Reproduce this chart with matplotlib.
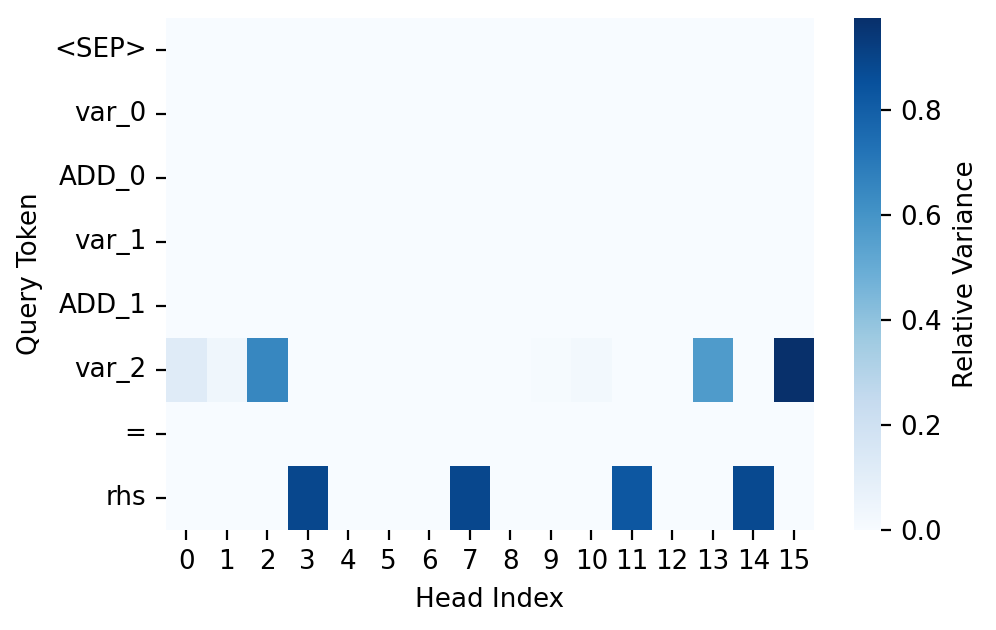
import numpy as np
import matplotlib
matplotlib.use("Agg")
import matplotlib.pyplot as plt
import seaborn as sns

plt.rcParams["font.size"] = 9.4

rows = ["<SEP>", "var_0", "ADD_0", "var_1", "ADD_1", "var_2", "=", "rhs"]
heads = [str(i) for i in range(16)]

var_2_vals = [0.12, 0.04, 0.65, 0, 0, 0, 0, 0, 0, 0.01, 0.025, 0, 0, 0.57, 0, 0.975]
rhs_vals = [0, 0, 0, 0.89, 0, 0, 0, 0.89, 0, 0, 0, 0.83, 0, 0, 0.88, 0]
zero_row = [0.0] * 16

data = np.array([zero_row, zero_row, zero_row, zero_row, zero_row,
                 var_2_vals, zero_row, rhs_vals])

fig = plt.figure(figsize=(4.98, 3.15), dpi=200)
ax = fig.add_axes([166/996, 1 - 530/630, (814-166)/996, (530-18)/630])
cax = fig.add_axes([854/996, 1 - 530/630, (881-854)/996, (530-18)/630])
sns.heatmap(data, ax=ax, cbar_ax=cax, cmap="Blues", xticklabels=heads,
            yticklabels=rows, cbar_kws={"label": "Relative Variance"})
ax.set_xlabel("Head Index")
ax.set_ylabel("Query Token")
ax.tick_params(axis="y", rotation=0)
ax.tick_params(axis="x", rotation=0)
cax.tick_params(length=3.5)
fig.savefig("out.png", dpi=200)
